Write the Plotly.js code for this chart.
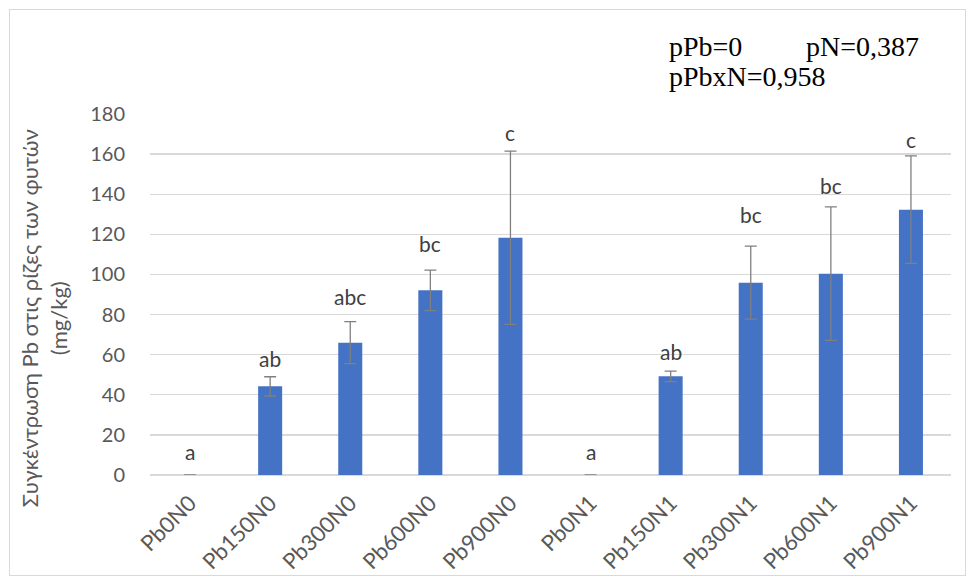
<!DOCTYPE html>
<html><head><meta charset="utf-8">
<script src="https://cdn.plot.ly/plotly-3.0.1.min.js"></script>
<style>
html,body{margin:0;padding:0;background:#fff;}
#wrap{position:relative;width:973px;height:582px;}
#chart{width:973px;height:582px;}
#frame{position:absolute;left:9px;top:9px;width:955px;height:565px;border:1px solid #d9d9d9;pointer-events:none;}
</style></head>
<body><div id="wrap"><div id="chart"></div><div id="frame"></div></div>
<script>
const categories = ['Pb0N0','Pb150N0','Pb300N0','Pb600N0','Pb900N0','Pb0N1','Pb150N1','Pb300N1','Pb600N1','Pb900N1'];
const means = [0, 44.2, 66.0, 92.1, 118.3, 0, 49.2, 95.9, 100.4, 132.3];
const errors = [null, 4.8, 10.5, 10.1, 43.2, null, 2.6, 18.2, 33.3, 26.8];
const letters = ['a','ab','abc','bc','c','a','ab','bc','bc','c'];
const letterY = [11.9, 58.3, 88.8, 115.2, 170.6, 11.9, 61.5, 130.0, 144.6, 167.4];
const yTicks = [0,20,40,60,80,100,120,140,160,180];

const font = 'Lato, "Open Sans", sans-serif';
const serif = '"Liberation Serif", "Times New Roman", serif';
const bars = {
  type:'bar', x:categories, y:means, width:0.3,
  marker:{color:'#4472C4', line:{width:0}},
  error_y:{type:'data', array:errors, visible:true, color:'#808080', thickness:1.3, width:6},
  hoverinfo:'none'
};
const annotations = letters.map((t,i)=>({
  x:categories[i], y:letterY[i], xref:'x', yref:'y', text:t, showarrow:false,
  xanchor:'center', yanchor:'middle',
  font:{family:font, size:21, color:'#404040'}
}));
annotations.push({
  xref:'paper', yref:'paper', x:-0.132, y:0.435, textangle:-90, showarrow:false,
  xanchor:'center', yanchor:'middle',
  text:'Συγκέντρωση Pb στις ρίζες των φυτών<br>(mg/kg)',
  font:{family:font, size:22, color:'#595959'}
});
annotations.push({xref:'paper', yref:'paper', x:0.646, y:1.187, xanchor:'left', yanchor:'middle', showarrow:false,
  text:'pPb=0', font:{family:serif, size:28, color:'#000'}});
annotations.push({xref:'paper', yref:'paper', x:0.817, y:1.187, xanchor:'left', yanchor:'middle', showarrow:false,
  text:'pN=0,387', font:{family:serif, size:28, color:'#000'}});
annotations.push({xref:'paper', yref:'paper', x:0.646, y:1.104, xanchor:'left', yanchor:'middle', showarrow:false,
  text:'pPbxN=0,958', font:{family:serif, size:28, color:'#000'}});

const layout = {
  width:973, height:582,
  margin:{l:150, r:22, t:114, b:107},
  paper_bgcolor:'#fff', plot_bgcolor:'#fff',
  showlegend:false,
  xaxis:{type:'category', tickangle:-45, tickfont:{family:font, size:22, color:'#595959'},
    showgrid:false, showline:false, zeroline:false, ticks:'', ticklabelstandoff:10},
  yaxis:{range:[0,180], tickvals:yTicks, ticktext:yTicks.map(String),
    tickfont:{family:font, size:20, color:'#595959'},
    showgrid:true, gridcolor:'#d9d9d9', gridwidth:1.3, zeroline:true, zerolinecolor:'#d9d9d9', zerolinewidth:1.3,
    showline:false, ticks:'', ticklabelstandoff:24},
  annotations:annotations
};
Plotly.newPlot('chart',[bars],layout,{displayModeBar:false, staticPlot:true});
</script></body></html>
